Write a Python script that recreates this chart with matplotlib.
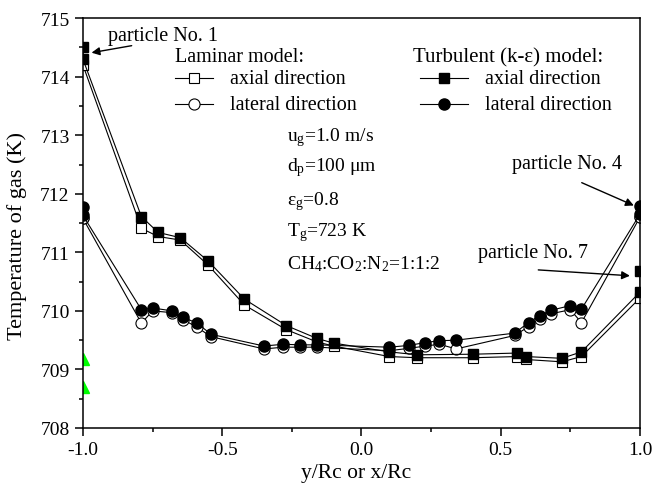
import matplotlib
matplotlib.use("Agg")
import matplotlib.pyplot as plt
from matplotlib.ticker import MultipleLocator, FormatStrFormatter

plt.rcParams["font.family"] = ["Liberation Serif", "DejaVu Serif"]
plt.rcParams["mathtext.fontset"] = "custom"
plt.rcParams["mathtext.rm"] = "Liberation Serif"
plt.rcParams["mathtext.it"] = "Liberation Serif:italic"
plt.rcParams["axes.unicode_minus"] = False

# axial direction (squares)
x_axial = [-1.0, -1.0, -0.79, -0.73, -0.65, -0.55, -0.42, -0.27, -0.16, -0.10,
           0.10, 0.20, 0.40, 0.56, 0.59, 0.72, 0.79, 1.0, 1.0]
lam_axial = [714.2, 714.2, 711.41, 711.27, 711.21, 710.78, 710.10, 709.68, 709.47, 709.40,
             709.22, 709.20, 709.20, 709.22, 709.17, 709.13, 709.22, 710.22, 710.22]
turb_axial = [714.5, 714.3, 711.61, 711.34, 711.25, 710.85, 710.20, 709.75, 709.53, 709.45,
              709.30, 709.25, 709.26, 709.28, 709.22, 709.19, 709.30, 710.32, 710.68]

# lateral direction (circles)
x_lateral = [-1.0, -1.0, -0.79, -0.75, -0.68, -0.64, -0.59, -0.54, -0.35, -0.28, -0.22, -0.16,
             0.10, 0.17, 0.23, 0.28, 0.34, 0.55, 0.60, 0.64, 0.68, 0.75, 0.79, 1.0, 1.0]
lam_lateral = [711.58, 711.58, 709.79, 710.00, 709.97, 709.85, 709.72, 709.56, 709.35, 709.38, 709.38, 709.38,
               709.32, 709.36, 709.40, 709.43, 709.35, 709.58, 709.73, 709.87, 709.95, 710.02, 709.80, 711.60, 711.60]
turb_lateral = [711.78, 711.63, 710.02, 710.05, 710.00, 709.89, 709.79, 709.60, 709.40, 709.43, 709.42, 709.42,
                709.38, 709.41, 709.46, 709.49, 709.50, 709.62, 709.80, 709.92, 710.01, 710.09, 710.03, 711.65, 711.80]

# stray green marks on the left axis
green_y = [709.18, 708.70]

xticks = [-1.0, -0.5, 0.0, 0.5, 1.0]
yticks = [708, 709, 710, 711, 712, 713, 714, 715]

params = [r"u$_\mathregular{g}$=1.0 m/s", r"d$_\mathregular{p}$=100 μm", r"ε$_\mathregular{g}$=0.8",
          r"T$_\mathregular{g}$=723 K",
          r"CH$_\mathregular{4}$:CO$_\mathregular{2}$:N$_\mathregular{2}$=1:1:2"]

fig = plt.figure(figsize=(6.53, 4.85), dpi=100)
ax = fig.add_axes([0.127, 0.1155, 0.853, 0.845])

lw = 0.8
ax.plot(x_axial, lam_axial, "-", color="black", lw=lw, marker="s", ms=7,
        mfc="white", mec="black", mew=0.8)
ax.plot(x_lateral, lam_lateral, "-", color="black", lw=lw, marker="o", ms=8,
        mfc="white", mec="black", mew=0.8)
ax.plot(x_axial, turb_axial, "-", color="black", lw=lw, marker="s", ms=7,
        mfc="black", mec="black")
ax.plot(x_lateral, turb_lateral, "-", color="black", lw=lw, marker="o", ms=8,
        mfc="black", mec="black")
ax.plot([-1.0] * len(green_y), green_y, "^", color="#00ff00", ms=9, ls="none")

ax.set_xlim(-1.0, 1.0)
ax.set_ylim(708, 715)
ax.set_xticks(xticks)
ax.set_yticks(yticks)
ax.xaxis.set_major_formatter(FormatStrFormatter("%.1f"))
ax.xaxis.set_minor_locator(MultipleLocator(0.25))
ax.yaxis.set_minor_locator(MultipleLocator(0.5))
ax.tick_params(which="both", direction="out", width=1.1, labelsize=14)
ax.tick_params(which="major", length=6)
ax.tick_params(which="minor", length=3)
for s in ax.spines.values():
    s.set_linewidth(1.1)
ax.set_xlabel("y/Rc or x/Rc", fontsize=15.5)
ax.set_ylabel("Temperature of gas (K)", fontsize=16)
ax.xaxis.set_label_coords(0.49, -0.085)
ax.yaxis.set_label_coords(-0.1, 0.47)

# hand-made legend
fs = 14.5
ta = ax.transAxes
ax.text(0.165, 0.895, "Laminar model:", transform=ta, fontsize=fs, va="baseline")
ax.plot([0.165, 0.233], [0.854, 0.854], "-", color="black", lw=lw, transform=ta)
ax.plot([0.199], [0.854], "s", ms=7, mfc="white", mec="black", mew=0.8, transform=ta)
ax.plot([0.165, 0.233], [0.790, 0.790], "-", color="black", lw=lw, transform=ta)
ax.plot([0.199], [0.790], "o", ms=8, mfc="white", mec="black", mew=0.8, transform=ta)
ax.text(0.264, 0.841, "axial direction", transform=ta, fontsize=fs, va="baseline")
ax.text(0.264, 0.778, "lateral direction", transform=ta, fontsize=fs, va="baseline")

ax.text(0.592, 0.895, "Turbulent (k-ε) model:", transform=ta, fontsize=15, va="baseline")
ax.plot([0.605, 0.691], [0.854, 0.854], "-", color="black", lw=lw, transform=ta)
ax.plot([0.648], [0.854], "s", ms=7, color="black", transform=ta)
ax.plot([0.605, 0.691], [0.790, 0.790], "-", color="black", lw=lw, transform=ta)
ax.plot([0.648], [0.790], "o", ms=8, color="black", transform=ta)
ax.text(0.722, 0.841, "axial direction", transform=ta, fontsize=fs, va="baseline")
ax.text(0.722, 0.778, "lateral direction", transform=ta, fontsize=fs, va="baseline")

for i, t in enumerate(params):
    ax.text(0.366, [0.702, 0.629, 0.546, 0.471, 0.390][i], t, transform=ta,
            fontsize=14, va="baseline")

arrow = dict(arrowstyle="-|>", color="black", lw=1.0, mutation_scale=12,
             shrinkA=0, shrinkB=0)
ax.annotate("", xy=(-0.969, 714.41), xytext=(-0.825, 714.53), arrowprops=arrow)
ax.text(-0.91, 714.63, "particle No. 1", fontsize=fs, va="baseline")
ax.annotate("", xy=(0.978, 711.80), xytext=(0.791, 712.19), arrowprops=arrow)
ax.text(0.540, 712.44, "particle No. 4", fontsize=fs, va="baseline")
ax.annotate("", xy=(0.964, 710.60), xytext=(0.635, 710.70), arrowprops=arrow)
ax.text(0.418, 710.92, "particle No. 7", fontsize=fs, va="baseline")

fig.savefig("out.png", dpi=100)
